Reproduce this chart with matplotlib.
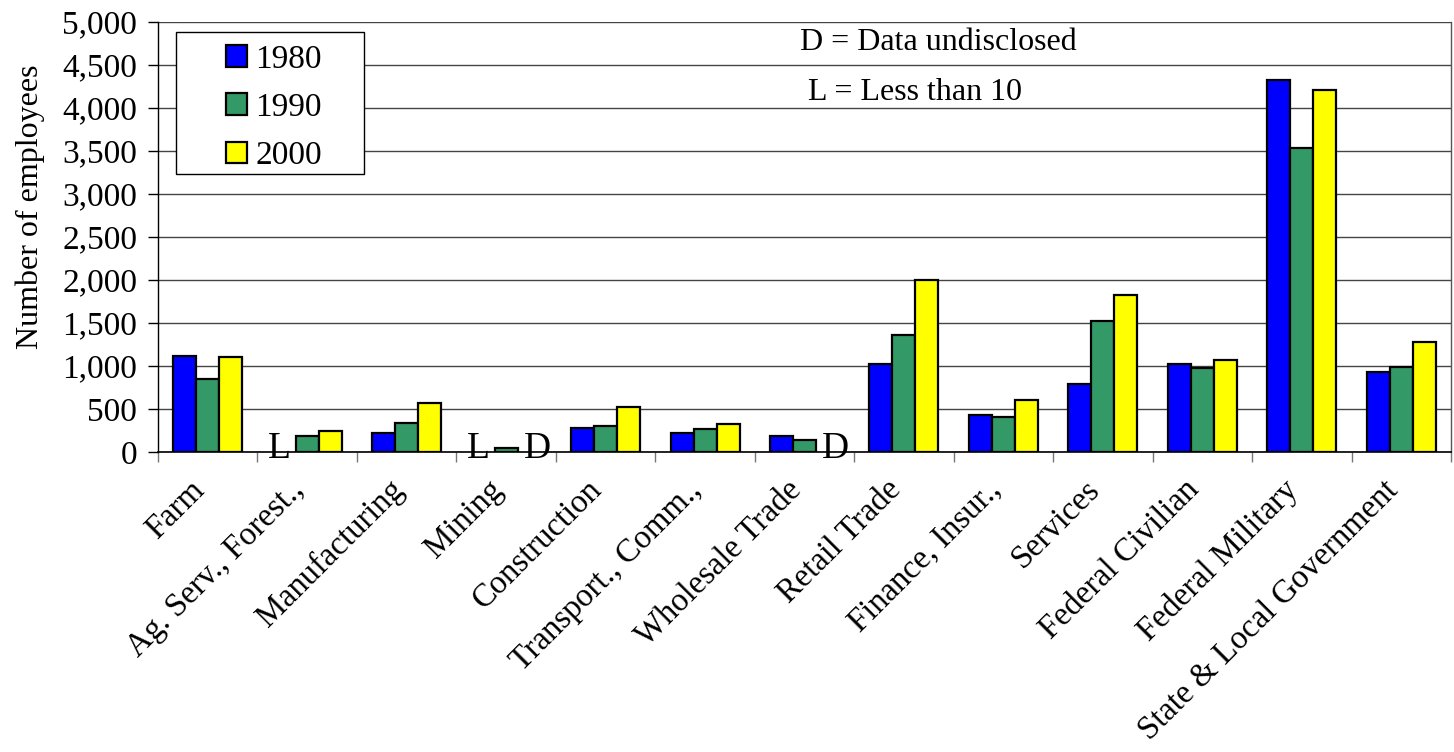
import numpy as np
import matplotlib
matplotlib.use("Agg")
import matplotlib.pyplot as plt
from matplotlib.patches import Rectangle
from matplotlib.transforms import ScaledTranslation

plt.rcParams['font.family'] = ['Liberation Serif', 'DejaVu Serif']

categories = ["Farm", "Ag. Serv., Forest.,", "Manufacturing", "Mining",
              "Construction", "Transport., Comm.,", "Wholesale Trade",
              "Retail Trade", "Finance, Insur.,", "Services",
              "Federal Civilian", "Federal Military", "State & Local Government"]
years = ["1980", "1990", "2000"]
# NaN marks a value that is not shown (undisclosed or below 10)
emp_1980 = [1120, np.nan, 220, np.nan, 274, 224, 186, 1020, 429, 792, 1024, 4327, 928]
emp_1990 = [850, 181, 336, 46, 297, 262, 139, 1355, 406, 1523, 977, 3538, 993]
emp_2000 = [1105, 250, 575, np.nan, 518, 328, np.nan, 2005, 599, 1821, 1067, 4211, 1280]
# notes in place of missing bars: (category index, series index, note)
missing_notes = [(1, 0, "L"), (3, 0, "L"), (3, 2, "D"), (6, 2, "D")]
yticks = [0, 500, 1000, 1500, 2000, 2500, 3000, 3500, 4000, 4500, 5000]

colors = ["#0000FF", "#339966", "#FFFF00"]
series = [emp_1980, emp_1990, emp_2000]

FS = 24
W, H = 1454, 752
fig = plt.figure(figsize=(W / 100, H / 100), dpi=100)
ax_l, ax_r, ax_t, ax_b = 158, 1451, 22, 452
ax = fig.add_axes([ax_l / W, 1 - ax_b / H, (ax_r - ax_l) / W, (ax_b - ax_t) / H])

n = len(categories)
x = np.arange(n) + 0.5
bw = 0.231
for i, (vals, col, yr) in enumerate(zip(series, colors, years)):
    ax.bar(x + (i - 1) * bw, vals, width=bw, color=col, edgecolor="black",
           linewidth=1.6, label=yr, zorder=3)

note_shift = {"L": -0.05, "D": 0.08}
for ci, si, note in missing_notes:
    ax.text(x[ci] + (si - 1) * bw + note_shift[note], 40, note, ha="center",
            va="center", fontsize=27, zorder=4)

ax.set_xlim(0, n)
ax.set_ylim(0, 5000)
ax.set_yticks(yticks)
ax.set_yticklabels([f"{v:,}" for v in yticks], fontsize=FS)
ax.yaxis.grid(True, color="#444444", linewidth=1.0, zorder=0)
ax.set_axisbelow(True)

ax.set_xticks(x)
ax.set_xticklabels(categories, fontsize=23.5, rotation=45, ha="right",
                   va="center", rotation_mode="anchor")
ax.tick_params(axis="x", which="major", length=0, pad=24)
shift = ScaledTranslation(-8 / 100, 0, fig.dpi_scale_trans)
for lab in ax.get_xticklabels():
    lab.set_transform(lab.get_transform() + shift)
ax.set_xticks(np.arange(n + 1), minor=True)
ax.tick_params(axis="x", which="minor", length=7, width=1, color="#777777",
               direction="out")
ax.tick_params(axis="y", length=7, width=1, direction="out", pad=8)

ax.spines["top"].set_visible(False)
ax.spines["right"].set_color("#555555")
ax.spines["right"].set_linewidth(1.0)
ax.spines["left"].set_linewidth(1.0)
ax.spines["bottom"].set_linewidth(1.2)

fig.text(30 / W, 1 - 207 / H, "Number of employees", rotation=90,
         ha="center", va="center", fontsize=23)

# legend box
bx0, by0, bx1, by1 = 176, 32, 364, 174
frame = Rectangle((bx0 / W, 1 - by1 / H), (bx1 - bx0) / W, (by1 - by0) / H,
                  transform=fig.transFigure, facecolor="white",
                  edgecolor="black", linewidth=1.0, zorder=5)
fig.patches.append(frame)
leg = fig.legend(loc="upper left", bbox_to_anchor=(203 / W, 1 - 21 / H),
                 frameon=False, fontsize=FS, handlelength=0.62,
                 handleheight=0.62, handletextpad=0.25, labelspacing=0.53,
                 borderpad=0.2)
leg.set_zorder(6)

ax.text(0.4965, 0.953, "D = Data undisclosed", transform=ax.transAxes,
        ha="left", va="center", fontsize=23, zorder=4)
ax.text(0.5027, 0.837, "L = Less than 10", transform=ax.transAxes,
        ha="left", va="center", fontsize=23, zorder=4)

fig.savefig("out.png", dpi=100)
